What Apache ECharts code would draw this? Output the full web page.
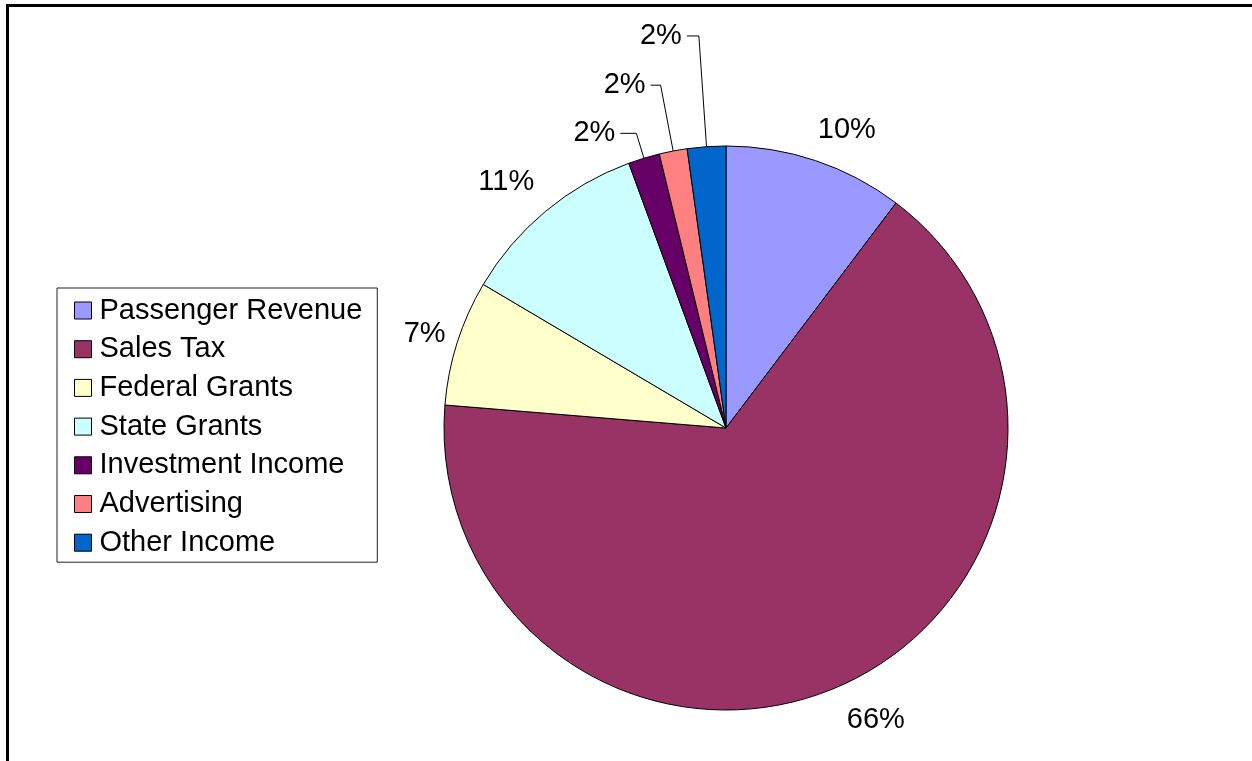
<!DOCTYPE html>
<html>
<head>
<meta charset="utf-8">
<title>Revenue Sources</title>
<script src="https://cdn.jsdelivr.net/npm/echarts@6/dist/echarts.min.js"></script>
<style>
  html, body { margin: 0; padding: 0; background: #ffffff; }
  #chart { width: 1252px; height: 761px; }
</style>
</head>
<body>
<div id="chart"></div>
<script>
// Revenue categories and their shares (percent of total revenue)
const categories = [
  'Passenger Revenue',
  'Sales Tax',
  'Federal Grants',
  'State Grants',
  'Investment Income',
  'Advertising',
  'Other Income'
];
const shares = [10.3, 66.0, 7.2, 10.9, 1.8, 1.6, 2.2];

// Slice fills, in category order
const sliceColors = ['#9999FF', '#993366', '#FFFFCC', '#CCFFFF', '#660066', '#FF8080', '#0066CC'];

// Label placement per slice: [leader length, horizontal length, show leader line]
const labelPlacement = [
  [32, -13, false],
  [38, -15, false],
  [29, -21, false],
  [38, -18, false],
  [26, 16, true],
  [67, 10, true],
  [111, 12, true]
];

const FONT = '"Liberation Sans", Arial, Helvetica, sans-serif';

const pieData = categories.map((name, i) => ({
  name: name,
  value: shares[i],
  itemStyle: { color: sliceColors[i] },
  labelLine: {
    show: labelPlacement[i][2],
    length: labelPlacement[i][0],
    length2: labelPlacement[i][1]
  }
}));

const chart = echarts.init(document.getElementById('chart'), null, { renderer: 'canvas' });

chart.setOption({
  backgroundColor: '#ffffff',
  animation: false,
  graphic: [
    {
      // page frame: top and left rules
      type: 'polyline',
      shape: { points: [[7.5, 761], [7.5, 5.5], [1252, 5.5]] },
      style: { stroke: '#000000', lineWidth: 3, fill: null },
      silent: true
    }
  ],
  legend: {
    orient: 'vertical',
    left: 57,
    top: 288,
    padding: [8, 15, 5, 17],
    itemWidth: 17,
    itemHeight: 17,
    itemGap: 9.7,
    icon: 'rect',
    backgroundColor: '#ffffff',
    borderColor: '#222222',
    borderWidth: 1,
    selectedMode: false,
    textStyle: {
      fontFamily: FONT,
      fontSize: 29,
      lineHeight: 29,
      color: '#000000',
      padding: [0, 0, 0, 3]
    },
    itemStyle: { borderColor: '#000000', borderWidth: 1 },
    data: categories
  },
  series: [
    {
      type: 'pie',
      center: [726, 428],
      radius: 282,
      startAngle: 90,
      clockwise: true,
      avoidLabelOverlap: false,
      minAngle: 0,
      itemStyle: { borderColor: '#000000', borderWidth: 1 },
      emphasis: { disabled: true },
      label: {
        show: true,
        position: 'outside',
        fontFamily: FONT,
        fontSize: 29,
        color: '#000000',
        distanceToLabelLine: 5,
        formatter: (p) => Math.round(p.value) + '%'
      },
      labelLine: {
        lineStyle: { color: '#000000', width: 1 }
      },
      data: pieData
    }
  ]
});
</script>
</body>
</html>
